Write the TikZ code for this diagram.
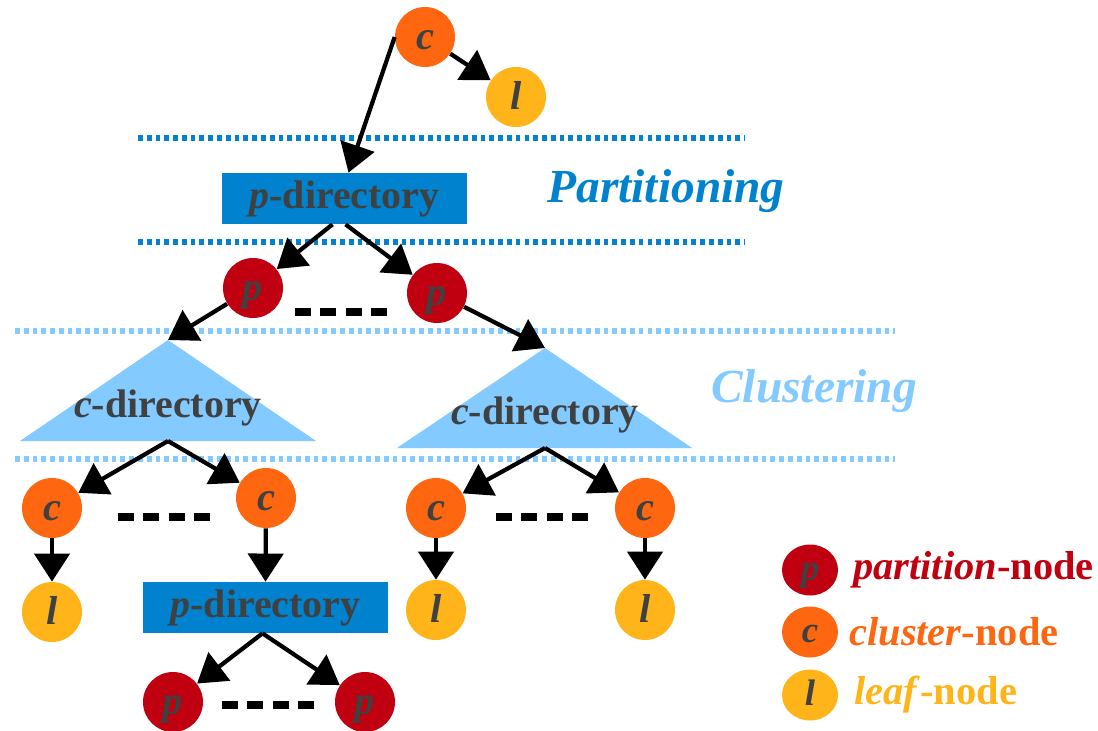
\documentclass[tikz,border=0pt]{standalone}
\usepackage{fontspec}
\setmainfont{Liberation Serif}
\usetikzlibrary{arrows.meta,shapes.geometric,calc}
\definecolor{pred}{RGB}{192,0,16}
\definecolor{corange}{RGB}{255,102,16}
\definecolor{lyellow}{RGB}{255,180,26}
\definecolor{tgray}{RGB}{64,64,64}
\definecolor{dblue}{RGB}{0,130,206}
\definecolor{lblue}{RGB}{130,202,255}
\begin{document}
\begin{tikzpicture}[x=0.02cm,y=-0.02cm,
  circ/.style={circle,minimum size=1.2cm,inner sep=0pt,text=tgray,text height=14.7pt,text depth=0pt,font=\fontsize{23}{25}\selectfont\bfseries\itshape},
  pn/.style={circ,fill=pred}, cn/.style={circ,fill=corange}, ln/.style={circ,fill=lyellow},
  legc/.style={ellipse,minimum width=1.12cm,minimum height=1.02cm,inner sep=0pt,text=tgray,text height=12.5pt,text depth=0pt,font=\fontsize{21}{23}\selectfont\bfseries\itshape},
  legt/.style={anchor=west,inner sep=0pt,font=\fontsize{23}{25}\selectfont\bfseries},
  arr/.style={line width=2.4pt,-{Triangle[length=16pt,width=20pt]}},
  dirbox/.style={fill=dblue,minimum width=4.9cm,minimum height=1.02cm,inner sep=0pt,text=tgray,font=\fontsize{22.7}{24}\selectfont\bfseries},
  dirtext/.style={text=tgray,inner sep=0pt,font=\fontsize{22.7}{24}\selectfont\bfseries},
  dotline/.style={line width=3pt,dash pattern=on 2.7pt off 2.3pt},
  blackdash/.style={line width=5pt,dash pattern=on 9pt off 5.5pt},
  phase/.style={font=\fontsize{27}{29}\selectfont\bfseries\itshape},
]
\useasboundingbox (0,0) rectangle (1098,730);

% dotted separators
\draw[dotline,color=dblue] (138,138) -- (745,138);
\draw[dotline,color=dblue] (138,242) -- (745,242);
\draw[dotline,color=lblue] (15,331) -- (895,331);
\draw[dotline,color=lblue] (15,459) -- (895,459);

% phase labels
\node[phase,text=dblue] (part) at (666,191) {Partitioning};
\node[phase,text=lblue] (clus) at (814,391) {Clustering};

% top
\node[cn] (c0) at (425,37) {c};
\node[ln] (l0) at (516,97) {l};
\node[dirbox] (pd1) at (344.5,198.5) {\textit{p}-directory};
\draw[arr] (c0.west) -- ($(pd1.north)+(4,0)$);
\draw[arr] (c0) -- (l0);

% partition nodes
\node[pn] (p1) at (253,288) {p};
\node[pn] (p2) at (437,293) {p};
\draw[blackdash] (295,312) -- (388,312);
\draw[arr] ($(pd1.south)+(-12,0)$) -- (p1);
\draw[arr] ($(pd1.south)+(1,0)$) -- (p2);

% c-directories
\fill[lblue] (168,340) -- (316,441) -- (20,441) -- cycle;
\coordinate (t1top) at (168,340);
\coordinate (t1bot) at (168,441);
\node[dirtext] (cd1) at (168,408) {\textit{c}-directory};
\fill[lblue] (545,348) -- (692,448) -- (397,448) -- cycle;
\coordinate (t2top) at (545,348);
\coordinate (t2bot) at (545,448);
\node[dirtext] (cd2) at (545,415) {\textit{c}-directory};
\draw[arr] (p1) -- (t1top);
\draw[arr] (p2) -- (t2top);

% left cluster subtree
\node[cn] (c1) at (52,508) {c};
\node[cn] (c2) at (266,498) {c};
\node[ln] (l1) at (52,612) {l};
\draw[blackdash] (118,517) -- (214,517);
\draw[arr] (t1bot) -- (c1);
\draw[arr] (t1bot) -- (c2);
\draw[arr] (c1) -- (l1);
\node[dirbox] (pd2) at (265.5,607.5) {\textit{p}-directory};
\draw[arr] (c2) -- (pd2.north);
\node[pn] (p3) at (173,702) {p};
\node[pn] (p4) at (365,702) {p};
\draw[blackdash] (222,705) -- (318,705);
\draw[arr] ($(pd2.south)+(-3,0)$) -- (p3);
\draw[arr] ($(pd2.south)+(-3,0)$) -- (p4);

% right cluster subtree
\node[cn] (c3) at (436,508) {c};
\node[cn] (c4) at (645,508) {c};
\node[ln] (l3) at (436,610) {l};
\node[ln] (l4) at (645,610) {l};
\draw[blackdash] (496,517) -- (591,517);
\draw[arr] (t2bot) -- (c3);
\draw[arr] (t2bot) -- (c4);
\draw[arr] (c3) -- (l3);
\draw[arr] (c4) -- (l4);

% legend
\node[legc,fill=pred] (lgp) at (810,570) {p};
\node[legc,fill=corange] (lgc) at (810,632) {c};
\node[legc,fill=lyellow] (lgl) at (810,695) {l};
\node[legt,text=pred] (lgpt) at (853,570) {\textit{partition}-node};
\node[legt,text=corange] (lgct) at (849,632) {\textit{cluster}-node};
\node[legt,text=lyellow] (lglt) at (854,695) {\textit{leaf}-node};
\end{tikzpicture}
\end{document}
